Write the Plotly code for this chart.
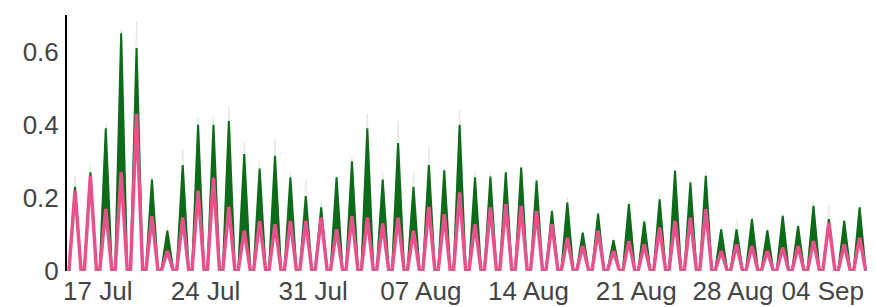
import datetime as dt
import plotly.graph_objects as go

# ---- data (daily peak values) ----
start_day = dt.datetime(2023, 7, 15)
total_peak = [0.23, 0.27, 0.39, 0.65, 0.61, 0.25, 0.11, 0.29, 0.40, 0.40,
              0.41, 0.32, 0.28, 0.315, 0.256, 0.205, 0.174, 0.256, 0.30, 0.39,
              0.25, 0.35, 0.23, 0.29, 0.275, 0.40, 0.256, 0.258, 0.27, 0.283,
              0.247, 0.164, 0.187, 0.105, 0.157, 0.084, 0.183, 0.135, 0.196, 0.274,
              0.242, 0.26, 0.114, 0.114, 0.142, 0.111, 0.151, 0.123, 0.178, 0.142,
              0.137, 0.174]
pink_peak = [0.22, 0.26, 0.17, 0.27, 0.43, 0.15, 0.055, 0.146, 0.22, 0.255,
             0.175, 0.11, 0.137, 0.128, 0.137, 0.137, 0.146, 0.114, 0.15, 0.146,
             0.13, 0.146, 0.11, 0.175, 0.155, 0.215, 0.128, 0.174, 0.183, 0.178,
             0.164, 0.128, 0.091, 0.068, 0.11, 0.055, 0.082, 0.073, 0.119, 0.137,
             0.146, 0.169, 0.055, 0.073, 0.068, 0.055, 0.064, 0.068, 0.082, 0.132,
             0.073, 0.091]
upper_peak = [0.26, 0.29, 0.40, 0.66, 0.68, 0.26, 0.12, 0.33, 0.42, 0.42,
              0.45, 0.35, 0.30, 0.36, 0.27, 0.25, 0.19, 0.26, 0.31, 0.43,
              0.27, 0.41, 0.27, 0.34, 0.28, 0.44, 0.27, 0.27, 0.28, 0.29,
              0.25, 0.17, 0.20, 0.11, 0.16, 0.09, 0.19, 0.14, 0.21, 0.28,
              0.25, 0.27, 0.12, 0.14, 0.15, 0.12, 0.16, 0.13, 0.19, 0.18,
              0.14, 0.18]
tick_dates = ["2023-07-17", "2023-07-24", "2023-07-31", "2023-08-07",
              "2023-08-14", "2023-08-21", "2023-08-28", "2023-09-04"]
tick_labels = ["17 Jul", "24 Jul", "31 Jul", "07 Aug", "14 Aug", "21 Aug",
               "28 Aug\u00a0\u00a0\u00a0", "04 Sep" + "\u00a0" * 8]

# ---- build daily profiles (rise, peak, set) ----
x, y_total, y_pink, y_upper = [], [], [], []
for k in range(len(total_peak)):
    d = start_day + dt.timedelta(days=k)
    for hh, mm, idx in [(3, 0, 0), (12, 30, 1), (22, 0, 0)]:
        x.append(d + dt.timedelta(hours=hh, minutes=mm))
        y_total.append(total_peak[k] if idx else 0.0)
        y_pink.append(pink_peak[k] if idx else 0.0)
        y_upper.append(upper_peak[k] if idx else 0.0)

PINK = "#e8528c"
GREEN = "#0d6b1a"

fig = go.Figure()
fig.add_trace(go.Scatter(x=x, y=y_upper, mode="lines",
                         line=dict(color="rgba(215,222,215,0.6)", width=1),
                         hoverinfo="skip", showlegend=False))
fig.add_trace(go.Scatter(x=x, y=y_pink, mode="lines",
                         line=dict(color=PINK, width=0),
                         hoverinfo="skip", showlegend=False))
fig.add_trace(go.Scatter(x=x, y=y_total, mode="lines", fill="tonexty",
                         fillcolor=GREEN, line=dict(color=GREEN, width=2),
                         showlegend=False))
fig.add_trace(go.Scatter(x=x, y=y_pink, mode="lines",
                         line=dict(color=PINK, width=3.5),
                         showlegend=False))

# page body adds an 8px margin, so the figure is sized to fit inside it
fig.update_layout(
    width=868, height=299,
    margin=dict(l=59, r=9, t=7, b=36, autoexpand=False),
    paper_bgcolor="white", plot_bgcolor="white",
    font=dict(family="Liberation Sans, Arial, sans-serif", size=26, color="#444"),
    xaxis=dict(type="date",
               range=[start_day, start_day + dt.timedelta(days=len(total_peak))],
               tickvals=tick_dates, ticktext=tick_labels, tickangle=0,
               showgrid=False, zeroline=False, showline=False, ticks="",
               ticklabelstandoff=2, ticklabeloverflow="allow", automargin=False),
    yaxis=dict(range=[0, 0.70], tickvals=[0, 0.2, 0.4, 0.6],
               ticktext=["0", "0.2", "0.4", "0.6"],
               showgrid=False, zeroline=False, showline=True,
               linecolor="black", linewidth=2, ticks="",
               ticklabelstandoff=1, automargin=False),
)

fig.write_html("out.html")
